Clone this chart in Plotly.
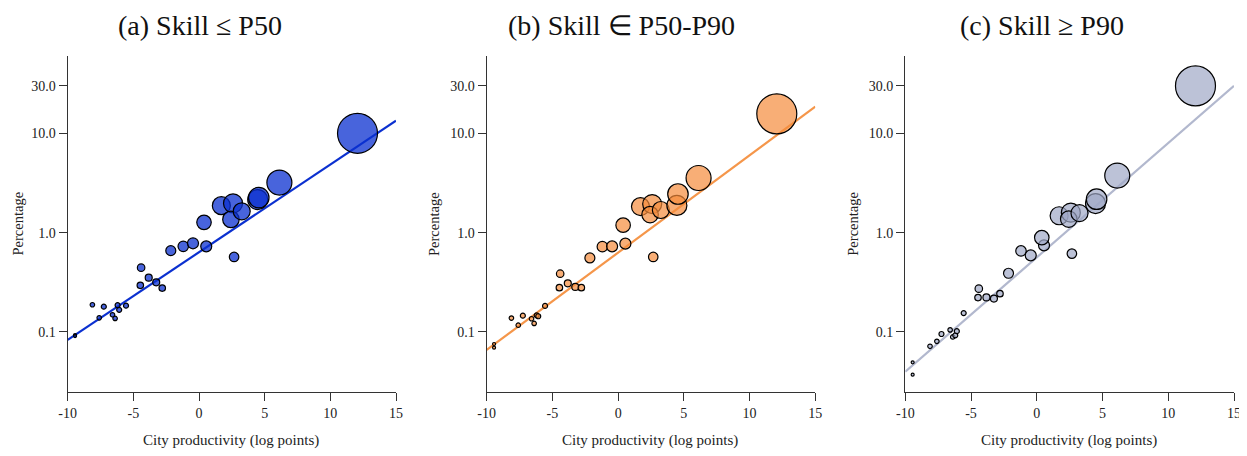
import plotly.graph_objects as go
import numpy as np

# ---------------- data ----------------
productivity = [-9.44, -9.44, -8.12, -7.60, -7.25, -6.59, -6.39, -6.20, -6.08, -5.56,
                -4.47, -4.41, -3.83, -3.26, -2.80, -2.15, -1.20, -0.46, 0.55, 0.38,
                1.70, 2.59, 2.43, 2.67, 3.25, 4.47, 4.55, 6.12, 12.07]

city_size = [3, 3, 4.5, 4.5, 5, 4.5, 4.5, 5, 5, 5,
             6.5, 7.5, 7, 7, 6.5, 10, 10.5, 11, 11, 14.5,
             18, 19, 16.5, 9.5, 17, 20, 20.5, 25, 40]

share_low = [0.093, 0.091, 0.188, 0.139, 0.180, 0.149, 0.137, 0.186, 0.167, 0.184,
             0.295, 0.444, 0.352, 0.316, 0.277, 0.659, 0.728, 0.781, 0.728, 1.27,
             1.87, 1.97, 1.36, 0.569, 1.64, 2.15, 2.25, 3.19, 10.0]

share_mid = [0.0757, 0.0695, 0.138, 0.117, 0.146, 0.136, 0.122, 0.147, 0.144, 0.183,
             0.279, 0.386, 0.309, 0.284, 0.279, 0.556, 0.723, 0.728, 0.775, 1.19,
             1.83, 1.94, 1.52, 0.569, 1.69, 1.88, 2.45, 3.55, 15.7]

share_high = [0.0495, 0.0372, 0.0718, 0.0805, 0.0955, 0.105, 0.0891, 0.0925, 0.102, 0.155,
              0.222, 0.273, 0.223, 0.217, 0.243, 0.390, 0.654, 0.591, 0.745, 0.891,
              1.48, 1.59, 1.37, 0.615, 1.57, 1.96, 2.17, 3.75, 30.0]

# fitted lines: (log10 intercept at x=0, log10 slope)
fit_low = (-0.197, 0.08828)
fit_mid = (-0.201, 0.09796)
fit_high = (-0.249, 0.1151)

panel_titles = ["(a) Skill ≤ P50", "(b) Skill ∈ P50-P90", "(c) Skill ≥ P90"]
x_ticks = [-10, -5, 0, 5, 10, 15]
x_tick_text = ["-10", "-5", "0", "5", "10", "15"]
y_ticks = [0.1, 1.0, 10.0, 30.0]
y_tick_text = ["0.1", "1.0", "10.0", "30.0"]
x_line = [-10, 15]

# ---------------- styling ----------------
W, H = 1247, 456
OFF = 8  # page body margin offset compensation
FONT = "Liberation Serif"
fills = ["rgba(11,48,208,0.75)", "rgba(245,140,60,0.7)", "rgba(160,168,198,0.7)"]
line_cols = ["#0b30d0", "#f5964a", "#b2b8ce"]
x_dom_px = [(67.7, 396.0), (486.7, 815.3), (905.3, 1234.0)]
title_cx = [200, 621, 1042]
ylab_cx = [17.5, 434, 852.7]
xlab_cx = [231, 650, 1069]


def px_x(p):
    return (p - OFF) / W


def px_y(p):
    return 1 - (p - OFF) / H


fig = go.Figure()
series = [share_low, share_mid, share_high]
fits = [fit_low, fit_mid, fit_high]

for i in range(3):
    xa = "x" if i == 0 else f"x{i+1}"
    ya = "y" if i == 0 else f"y{i+1}"
    a, b = fits[i]
    xl = np.array(x_line, dtype=float)
    fig.add_trace(go.Scatter(x=xl, y=10 ** (a + b * xl), mode="lines",
                             line=dict(color=line_cols[i], width=2.2),
                             xaxis=xa, yaxis=ya, showlegend=False, hoverinfo="skip"))
    fig.add_trace(go.Scatter(x=productivity, y=series[i], mode="markers",
                             marker=dict(size=city_size, color=fills[i], opacity=1,
                                         line=dict(color="black", width=1.2)),
                             xaxis=xa, yaxis=ya, showlegend=False, cliponaxis=False))

layout = dict(width=W, height=H, margin=dict(l=0, r=0, t=0, b=0, pad=0, autoexpand=False),
              paper_bgcolor="white", plot_bgcolor="white",
              font=dict(family=FONT, color="#222"))
annotations = []
for i in range(3):
    sx = "" if i == 0 else str(i + 1)
    x0, x1 = x_dom_px[i]
    layout["xaxis" + sx] = dict(
        domain=[px_x(x0), px_x(x1)], range=[-10, 15], anchor="y" + sx, automargin=False,
        tickmode="array", tickvals=x_ticks, ticktext=x_tick_text,
        showline=True, linecolor="#333", linewidth=1.3, mirror=False,
        ticks="outside", ticklen=8, tickwidth=1.1, tickcolor="#333",
        showgrid=False, zeroline=False, tickfont=dict(family=FONT, size=14, color="#222"))
    layout["yaxis" + sx] = dict(
        domain=[px_y(392), px_y(56)], type="log", range=[-1.604, 1.778], anchor="x" + sx,
        automargin=False,
        tickmode="array", tickvals=y_ticks, ticktext=y_tick_text,
        showline=True, linecolor="#333", linewidth=1.3,
        ticks="outside", ticklen=8, tickwidth=1.1, tickcolor="#333",
        showgrid=False, zeroline=False, tickfont=dict(family=FONT, size=14, color="#222"))
    annotations.append(dict(text=panel_titles[i], x=px_x(title_cx[i]), y=1.0,
                            xref="paper", yref="paper", showarrow=False,
                            xanchor="center", yanchor="top",
                            font=dict(family=FONT, size=28, color="#111")))
    annotations.append(dict(text="Percentage", x=px_x(ylab_cx[i]), y=px_y(224),
                            xref="paper", yref="paper", showarrow=False, textangle=-90,
                            xanchor="center", yanchor="middle",
                            font=dict(family=FONT, size=14.5, color="#222")))
    annotations.append(dict(text="City productivity (log points)", x=px_x(xlab_cx[i]), y=px_y(440),
                            xref="paper", yref="paper", showarrow=False,
                            xanchor="center", yanchor="middle",
                            font=dict(family=FONT, size=15, color="#222")))
layout["annotations"] = annotations
fig.update_layout(**layout)
fig.write_html("out.html")
